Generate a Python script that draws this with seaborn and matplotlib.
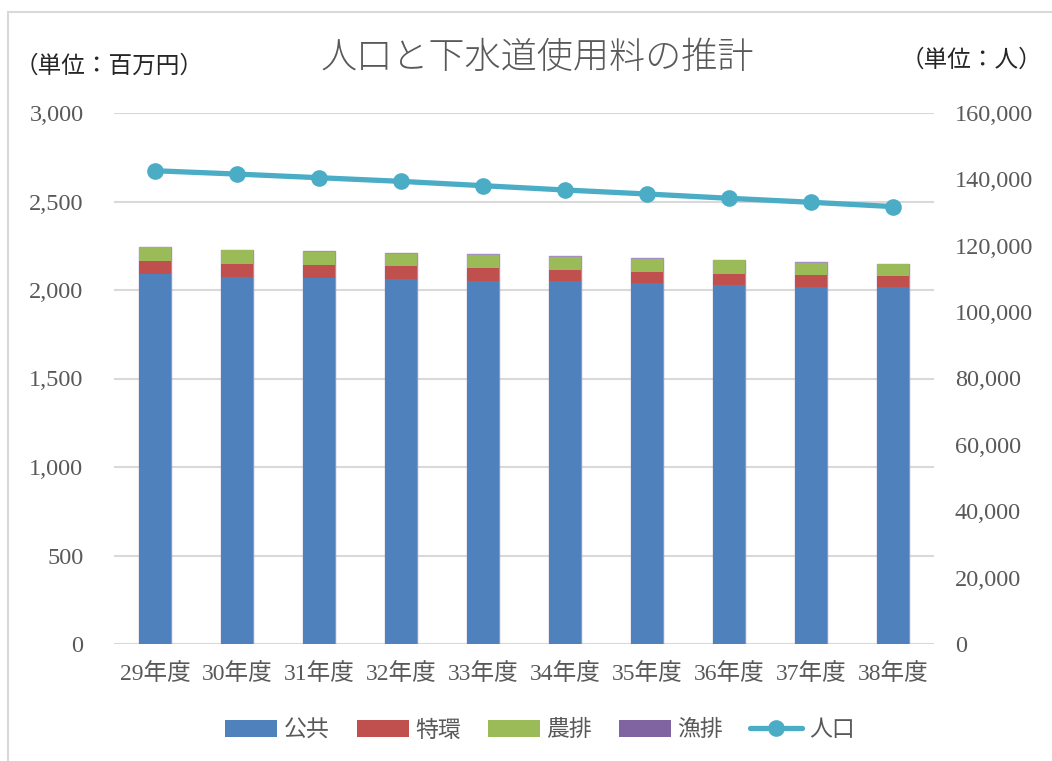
import numpy as np
import pandas as pd
import matplotlib
matplotlib.use("Agg")
import matplotlib.pyplot as plt
import seaborn as sns
from matplotlib.patches import Patch, Rectangle
from matplotlib.lines import Line2D
from matplotlib.ticker import FuncFormatter, MultipleLocator

# ---- data ----
years = ["29年度", "30年度", "31年度", "32年度", "33年度",
         "34年度", "35年度", "36年度", "37年度", "38年度"]
kokyo = [2089, 2072, 2070, 2062, 2053, 2049, 2038, 2028, 2019, 2015]   # 公共
tokkan = [77, 77, 71, 76, 74, 66, 66, 61, 68, 64]                      # 特環
nohai = [75, 75, 74, 67, 71, 72, 71, 79, 67, 66]                       # 農排
gyohai = [4, 4, 5, 4, 5, 5, 6, 4, 4, 4]                                # 漁排
population = [142600, 141600, 140500, 139400, 138100,
              136800, 135600, 134300, 133100, 131800]                  # 人口

series_names = ["公共", "特環", "農排", "漁排"]
series_vals = [kokyo, tokkan, nohai, gyohai]
colors = ["#4F81BD", "#C0504D", "#9BBB59", "#8064A2"]
line_color = "#4BACC6"

sns.set_theme(style="white")
plt.rcParams['font.family'] = ['Liberation Serif', 'Noto Sans CJK JP', 'DejaVu Sans']
plt.rcParams['axes.unicode_minus'] = False

fig = plt.figure(figsize=(10.52, 7.61), dpi=100)
ax = fig.add_axes([114/1052, 1-644/761, (934-114)/1052, (644-113)/761])

# stacked bars via cumulative overlay (tallest first)
cum = np.cumsum(np.array(series_vals), axis=0)
for i in range(len(series_names) - 1, -1, -1):
    df = pd.DataFrame({"year": years, "val": cum[i]})
    lw = 1.0 if i == 3 else 0
    sns.barplot(data=df, x="year", y="val", color=colors[i], width=0.4,
                saturation=1, linewidth=lw, edgecolor="#A28FC0" if i == 3 else colors[i],
                ax=ax, zorder=2)

ax.set_ylim(0, 3000)
ax.set_xlim(-0.5, len(years) - 0.5)
ax.yaxis.set_major_locator(MultipleLocator(500))
ax.yaxis.set_major_formatter(FuncFormatter(lambda v, p: f"{int(v):,}"))
ax.grid(axis="y", color="#D9D9D9", linewidth=1.5, zorder=0)
ax.set_axisbelow(True)
for s in ax.spines.values():
    s.set_visible(False)
ax.set_xlabel("")
ax.set_ylabel("")
ax.tick_params(axis="y", length=0, pad=22, labelsize=17.5, labelcolor="#595959")
ax.tick_params(axis="x", length=0, pad=14, labelsize=17, labelcolor="#595959")

ax2 = ax.twinx()
sns.lineplot(x=np.arange(len(years)), y=population, ax=ax2, color=line_color,
             linewidth=3.8, marker="o", markersize=12, markeredgewidth=0,
             zorder=5)
ax2.set_ylim(0, 160000)
ax2.yaxis.set_major_locator(MultipleLocator(20000))
ax2.yaxis.set_major_formatter(FuncFormatter(lambda v, p: f"{int(v):,}"))
for s in ax2.spines.values():
    s.set_visible(False)
ax2.grid(False)
ax2.set_ylabel("")
ax2.tick_params(axis="y", length=0, pad=15, labelsize=17.5, labelcolor="#595959")
ax.set_xlim(-0.5, len(years) - 0.5)

# titles
fig.text(537/1052, 1-58/761, "人口と下水道使用料の推計", ha="center", va="center",
         fontsize=26, color="#595959", family=['Noto Sans CJK JP'], fontweight="light")
fig.text(15/1052, 1-66/761, "（単位：百万円）", ha="left", va="center",
         fontsize=17, color="#262626", family=['Noto Sans CJK JP'])
fig.text(1042/1052, 1-60/761, "（単位：人）", ha="right", va="center",
         fontsize=17, color="#262626", family=['Noto Sans CJK JP'])

# legend
handles = [Patch(facecolor=c, edgecolor="none", label=n) for c, n in zip(colors, series_names)]
handles.append(Line2D([0], [0], color=line_color, linewidth=3.8, marker="o",
                      markersize=12, markeredgewidth=0, label="人口"))
fig.legend(handles=handles, loc="center", bbox_to_anchor=(540/1052, 1-730/761),
           ncol=5, frameon=False, handlelength=2.27, handleheight=0.7,
           columnspacing=1.18, handletextpad=0.28, labelcolor="#595959",
           prop={'family': ['Noto Sans CJK JP'], 'size': 16.5})

# outer frame
fig.patches.append(Rectangle((8/1052, -0.05), 1.2, 1 - 12/761 + 0.05,
                             transform=fig.transFigure, fill=False,
                             edgecolor="#D9D9D9", linewidth=1.5))

fig.savefig("out.png", dpi=100)
